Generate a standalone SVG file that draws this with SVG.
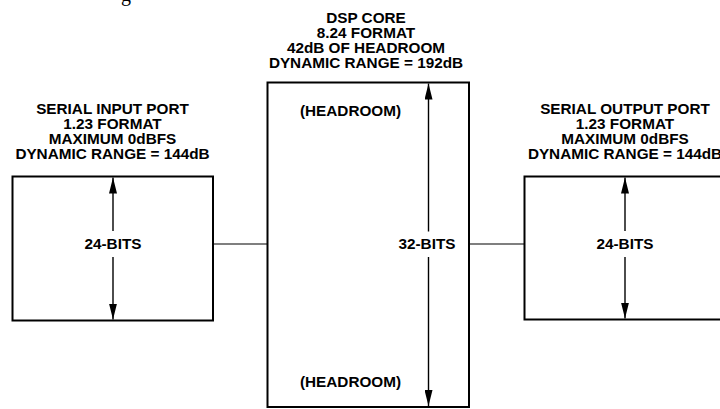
<svg xmlns="http://www.w3.org/2000/svg" width="720" height="409" viewBox="0 0 720 409">
<style>
  text { font-family: "Liberation Sans", Arial, sans-serif; font-weight: bold; font-size: 15.3px; fill: #000; text-anchor: middle; }
  .box { fill: #fff; stroke: #000; stroke-width: 2; }
  .conn { stroke: #000; stroke-width: 1.2; fill: none; }
  .dim { stroke: #000; stroke-width: 1.4; fill: none; }
  .frag { font-family: "Liberation Serif", "Times New Roman", serif; font-weight: normal; font-size: 20px; text-anchor: start; }
</style>
<defs>
  <marker id="ah" viewBox="0 0 16 8" refX="16" refY="4" markerWidth="16" markerHeight="8" markerUnits="userSpaceOnUse" orient="auto">
    <path d="M0,0 L16,4 L0,8 Z" fill="#000"/>
  </marker>
</defs>
<text class="frag" x="121" y="0.5">g</text>
<g id="connectors">
  <line class="conn" x1="213" y1="244" x2="267" y2="244"/>
  <line class="conn" x1="469" y1="244" x2="524" y2="244"/>
</g>
<g id="serial-input">
  <text x="112.5" y="114">SERIAL INPUT PORT</text>
  <text x="112.5" y="129">1.23 FORMAT</text>
  <text x="112.5" y="144">MAXIMUM 0dBFS</text>
  <text x="112.5" y="159">DYNAMIC RANGE = 144dB</text>
  <rect class="box" x="12.5" y="176.5" width="200.5" height="144"/>
  <line class="dim" x1="113" y1="231" x2="113" y2="177.5" marker-end="url(#ah)"/>
  <line class="dim" x1="113" y1="257" x2="113" y2="319.5" marker-end="url(#ah)"/>
  <text x="113" y="249">24-BITS</text>
</g>
<g id="dsp-core">
  <text x="366" y="23.3">DSP CORE</text>
  <text x="366" y="38.3">8.24 FORMAT</text>
  <text x="366" y="53.3">42dB OF HEADROOM</text>
  <text x="366" y="68.3">DYNAMIC RANGE = 192dB</text>
  <rect class="box" x="267.5" y="82.5" width="201.5" height="324.5"/>
  <text x="350.5" y="116">(HEADROOM)</text>
  <text x="350.5" y="386.5">(HEADROOM)</text>
  <line class="dim" x1="428.5" y1="231.5" x2="428.5" y2="83.5" marker-end="url(#ah)"/>
  <line class="dim" x1="428.5" y1="257" x2="428.5" y2="406" marker-end="url(#ah)"/>
  <text x="427" y="249.3">32-BITS</text>
</g>
<g id="serial-output">
  <text x="625" y="114">SERIAL OUTPUT PORT</text>
  <text x="625" y="129">1.23 FORMAT</text>
  <text x="625" y="144">MAXIMUM 0dBFS</text>
  <text x="625" y="159">DYNAMIC RANGE = 144dB</text>
  <rect class="box" x="524.5" y="176.5" width="201" height="143"/>
  <line class="dim" x1="625" y1="231" x2="625" y2="177.5" marker-end="url(#ah)"/>
  <line class="dim" x1="625" y1="257" x2="625" y2="318.5" marker-end="url(#ah)"/>
  <text x="625" y="249">24-BITS</text>
</g>
</svg>
